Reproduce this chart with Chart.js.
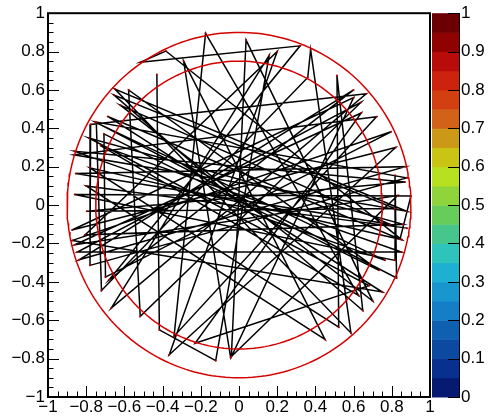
<!DOCTYPE html>
<html>
<head>
<meta charset="utf-8">
<script src="https://cdn.jsdelivr.net/npm/chart.js@4.4.1/dist/chart.umd.min.js"></script>
<style>
    html, body { margin: 0; padding: 0; background: #fff; }
    #wrap { width: 488px; height: 416px; }
</style>
</head>
<body>
<div id="wrap"><canvas id="graphChart" width="488" height="416"></canvas></div>
<script>
// polyline vertices (they sit in the ring between the circles)
const xs = [-0.43, -0.417, -0.122, 0.158, -0.669, 0.666, -0.777, -0.78, 0.877, -0.754,
    0.825, 0.817, 0.817, -0.86, 0.9, 0.843, -0.687, 0.75, -0.872, 0.796,
    -0.699, -0.707, 0.733, -0.578, -0.517, 0.638, -0.846, 0.85, -0.725, 0.626,
    -0.175, -0.34, 0.72, -0.864, 0.877, -0.65, 0.586, 0.375, 0.36, -0.72,
    -0.747, 0.765, -0.86, 0.869, -0.797, 0.817, -0.654, 0.648, 0.513, 0.522,
    -0.78, 0.853, -0.383, -0.517, 0.32, -0.68, 0.6, -0.837, 0.87, -0.855,
    0.79, -0.62, 0.7, 0.037, -0.04, 0.6, -0.874, 0.82, -0.365, 0.2,
    -0.806, 0.86, -0.786, 0.68, -0.23, 0.64, -0.859, 0.83, -0.044, -0.29,
    0.45, -0.8, 0.88];
const ys = [0.68, -0.65, -0.81, 0.78, -0.537, 0.58, 0.42, -0.314, 0.142, 0.434,
    -0.38, 0.156, -0.288, 0.055, 0.048, -0.178, 0.462, -0.453, -0.184, 0.382,
    -0.375, 0.371, -0.34, 0.6, -0.579, 0.535, -0.245, -0.245, 0.31, -0.471,
    0.895, -0.683, 0.46, 0.262, -0.032, 0.605, -0.666, 0.81, 0.665, -0.445,
    0.43, -0.288, 0.28, 0.121, -0.032, -0.018, 0.573, -0.549, 0.675, -0.636,
    0.194, -0.181, 0.803, 0.744, 0.83, -0.389, 0.6, -0.285, 0.2, 0.165,
    -0.1, 0.52, -0.5, 0.86, -0.79, 0.56, -0.13, 0.3, -0.78, 0.8,
    -0.155, -0.1, 0.35, -0.42, -0.72, 0.48, -0.207, 0.05, -0.793, 0.75,
    -0.7, 0.1, -0.12];
const radii = [0.9, 0.75];
// palette bins, z = 0 (bottom) up to z = 1 (top)
const paletteColors = ['#061a72', '#08308e', '#0c4aa0', '#1060b2', '#147ec6',
    '#1a96cf', '#1eb0d2', '#2ec4bc', '#46c68c', '#66cc5a',
    '#90d43c', '#b6e020', '#cac414', '#cc9818', '#d26218',
    '#d24012', '#cc220e', '#b80c0a', '#900202', '#6a0004'];

let graphChart;

function axisLabel(v) {
    let r = Math.round(v * 10) / 10;
    if (r === 0) return "0";
    return (r < 0 ? "\u2212" : "") + String(Math.abs(r));
}

function circlePoints(r) {
    let pts = [];
    for (let i = 0; i <= 240; i++) {
        let a = 2 * Math.PI * i / 240;
        pts.push({x: r * Math.cos(a), y: r * Math.sin(a)});
    }
    return pts;
}

// frame, inward ticks and the colour palette on the right
const frameAndPalette = {
    id: 'frameAndPalette',
    afterDraw(chart) {
        const ctx = chart.ctx;
        const area = chart.chartArea;
        const sx = chart.scales.x, sy = chart.scales.y, sz = chart.scales.z;
        ctx.save();
        ctx.strokeStyle = '#000';
        ctx.lineWidth = 1;
        for (let i = -20; i <= 20; i++) {
            let v = i / 20;
            let len = (i % 4 === 0) ? 11 : 5.5;
            let px = Math.round(sx.getPixelForValue(v)) + 0.5;
            ctx.beginPath();
            ctx.moveTo(px, area.bottom);
            ctx.lineTo(px, area.bottom - len);
            ctx.stroke();
            let py = Math.round(sy.getPixelForValue(v)) + 0.5;
            ctx.beginPath();
            ctx.moveTo(area.left, py);
            ctx.lineTo(area.left + len, py);
            ctx.stroke();
        }
        ctx.lineWidth = 2;
        ctx.strokeRect(area.left, area.top, area.right - area.left, area.bottom - area.top);

        let x0 = sz.left + 2, x1 = sz.left + 30;
        let n = paletteColors.length;
        for (let i = 0; i < n; i++) {
            let yTop = sz.getPixelForValue((i + 1) / n);
            let yBot = sz.getPixelForValue(i / n);
            ctx.fillStyle = paletteColors[i];
            ctx.fillRect(x0, yTop, x1 - x0, yBot - yTop + 0.5);
        }
        ctx.lineWidth = 1;
        ctx.strokeStyle = '#000';
        ctx.beginPath();
        ctx.moveTo(x1 - 0.5, sz.top);
        ctx.lineTo(x1 - 0.5, sz.bottom);
        ctx.stroke();
        sz.ticks.forEach(function (t) {
            let py = Math.round(sz.getPixelForValue(t.value)) + 0.5;
            ctx.beginPath();
            ctx.moveTo(x1 - 12, py);
            ctx.lineTo(x1, py);
            ctx.stroke();
        });
        ctx.restore();
    }
};

const tickFont = {family: 'Liberation Sans', size: 17, lineHeight: 1.2};

let datasets = [{
    data: xs.map((x, i) => ({x: x, y: ys[i]})),
    showLine: true,
    borderColor: '#000',
    borderWidth: 1.5,
    pointRadius: 1,
    pointBackgroundColor: '#b00000',
    pointBorderWidth: 0,
    tension: 0,
    order: 2
}];
radii.forEach(function (r) {
    datasets.push({
        data: circlePoints(r),
        showLine: true,
        borderColor: '#d40000',
        borderWidth: 1.5,
        pointRadius: 0,
        tension: 0,
        order: 1
    });
});

graphChart = new Chart(document.getElementById('graphChart'), {
    type: 'scatter',
    data: {datasets: datasets},
    options: {
        responsive: false,
        animation: false,
        devicePixelRatio: 1,
        layout: {padding: {top: 13, left: 0, right: 0, bottom: 0}},
        plugins: {legend: {display: false}, tooltip: {enabled: false}},
        scales: {
            x: {
                type: 'linear', position: 'bottom', min: -1, max: 1,
                grid: {display: false, drawTicks: false},
                border: {display: false},
                ticks: {stepSize: 0.2, autoSkip: false, maxRotation: 0, padding: 0,
                    color: '#000', font: tickFont, callback: v => axisLabel(v)},
                afterFit: s => { s.height = 19; }
            },
            y: {
                type: 'linear', position: 'left', min: -1, max: 1,
                grid: {display: false, drawTicks: false},
                border: {display: false},
                ticks: {stepSize: 0.2, padding: 3, color: '#000', font: tickFont,
                    callback: v => axisLabel(v)},
                afterFit: s => { s.width = 48; }
            },
            z: {
                type: 'linear', position: 'right', min: 0, max: 1,
                grid: {display: true, drawOnChartArea: false, drawTicks: true,
                    tickLength: 28, tickColor: 'rgba(0,0,0,0)'},
                border: {display: false},
                ticks: {stepSize: 0.1, padding: 3, color: '#000', font: tickFont,
                    callback: v => String(Math.round(v * 10) / 10)},
                afterFit: s => { s.width = 58; }
            }
        }
    },
    plugins: [frameAndPalette]
});
</script>
</body>
</html>
